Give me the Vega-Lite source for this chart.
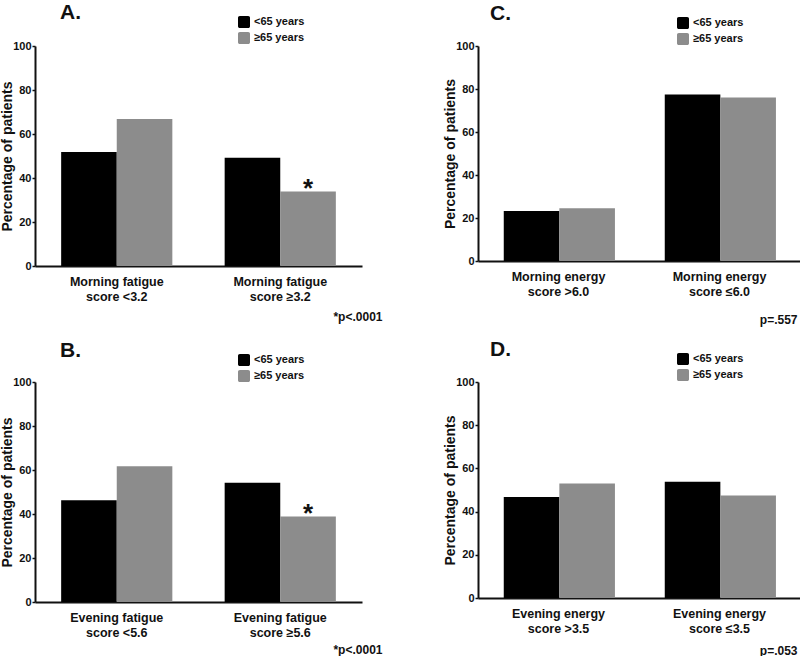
{
  "$schema": "https://vega.github.io/schema/vega-lite/v6.json",
  "background": "white",
  "padding": {"left": 0, "top": 2, "right": 0, "bottom": 0},
  "config": {
    "font": "Liberation Sans",
    "view": {"stroke": null},
    "axis": {
      "domainColor": "#111",
      "domainWidth": 2,
      "tickColor": "#111",
      "tickWidth": 1.5,
      "labelColor": "#111",
      "titleColor": "#111",
      "labelFontWeight": "bold",
      "titleFontWeight": "bold",
      "labelFont": "Liberation Sans",
      "titleFont": "Liberation Sans",
      "grid": false
    },
    "title": {"anchor": "start", "frame": "group", "fontSize": 21, "fontWeight": "bold", "color": "#111", "dx": 25, "offset": -7},
    "legend": {
      "orient": "none",
      "title": null,
      "padding": 0,
      "labelFontSize": 11,
      "labelFontWeight": "bold",
      "labelColor": "#111",
      "labelFont": "Liberation Sans",
      "symbolType": "M -0.7 -1 L 0.7 -1 A 0.3 0.3 0 0 1 1 -0.7 L 1 0.7 A 0.3 0.3 0 0 1 0.7 1 L -0.7 1 A 0.3 0.3 0 0 1 -1 0.7 L -1 -0.7 A 0.3 0.3 0 0 1 -0.7 -1 Z",
      "symbolSize": 144,
      "symbolStrokeWidth": 0,
      "rowPadding": 4,
      "labelOffset": 4
    },
    "concat": {"spacing": 116}
  },
  "datasets": {
    "A": [
      {"category": "Morning fatigue|score <3.2", "age": "<65 years", "pct": 51.8, "sig": ""},
      {"category": "Morning fatigue|score <3.2", "age": "≥65 years", "pct": 66.8, "sig": ""},
      {"category": "Morning fatigue|score ≥3.2", "age": "<65 years", "pct": 49.2, "sig": ""},
      {"category": "Morning fatigue|score ≥3.2", "age": "≥65 years", "pct": 33.9, "sig": "*"}
    ],
    "C": [
      {"category": "Morning energy|score >6.0", "age": "<65 years", "pct": 23.3, "sig": ""},
      {"category": "Morning energy|score >6.0", "age": "≥65 years", "pct": 24.5, "sig": ""},
      {"category": "Morning energy|score ≤6.0", "age": "<65 years", "pct": 77.5, "sig": ""},
      {"category": "Morning energy|score ≤6.0", "age": "≥65 years", "pct": 76.0, "sig": ""}
    ],
    "B": [
      {"category": "Evening fatigue|score <5.6", "age": "<65 years", "pct": 46.2, "sig": ""},
      {"category": "Evening fatigue|score <5.6", "age": "≥65 years", "pct": 61.7, "sig": ""},
      {"category": "Evening fatigue|score ≥5.6", "age": "<65 years", "pct": 54.2, "sig": ""},
      {"category": "Evening fatigue|score ≥5.6", "age": "≥65 years", "pct": 38.9, "sig": "*"}
    ],
    "D": [
      {"category": "Evening energy|score >3.5", "age": "<65 years", "pct": 46.8, "sig": ""},
      {"category": "Evening energy|score >3.5", "age": "≥65 years", "pct": 53.0, "sig": ""},
      {"category": "Evening energy|score ≤3.5", "age": "<65 years", "pct": 53.8, "sig": ""},
      {"category": "Evening energy|score ≤3.5", "age": "≥65 years", "pct": 47.4, "sig": ""}
    ]
  },
  "columns": 2,
  "bounds": "flush",
  "resolve": {
    "scale": {"x": "independent", "y": "independent", "color": "independent"},
    "legend": {"color": "independent"}
  },
  "concat": [
    {
      "width": 327, "height": 220,
      "title": {"text": "A."},
      "data": {"name": "A"},
      "encoding": {
        "x": {"field": "category", "type": "nominal", "sort": null,
          "scale": {"paddingInner": 0.32, "paddingOuter": 0.16},
          "axis": {"title": "*p<.0001", "labelAngle": 0, "ticks": false, "labelPadding": 9, "labelFontSize": 12.5, "labelLineHeight": 15,
            "labelExpr": "split(datum.label, '|')", "titleFontSize": 12, "titleAnchor": null, "titleAlign": "right", "titleBaseline": "top", "titleX": 347, "titleY": 45}},
        "xOffset": {"field": "age", "type": "nominal", "sort": ["<65 years", "≥65 years"]},
        "y": {"field": "pct", "type": "quantitative", "scale": {"domain": [0, 100], "nice": false},
          "axis": {"title": "Percentage of patients", "values": [0, 20, 40, 60, 80, 100], "tickSize": 3, "labelPadding": 1, "labelFontSize": 11, "titleFontSize": 14, "titlePadding": -2}}
      },
      "layer": [
        {"mark": {"type": "bar"},
         "encoding": {"color": {"field": "age", "type": "nominal", "sort": ["<65 years", "≥65 years"],
           "scale": {"domain": ["<65 years", "≥65 years"], "range": ["#000000", "#8c8c8c"]},
           "legend": {"legendX": 203, "legendY": -30}}}},
        {"mark": {"type": "text", "fontSize": 26, "fontWeight": "bold", "baseline": "alphabetic", "dy": 6, "color": "#111"},
         "encoding": {"text": {"field": "sig"}}}
      ]
    },
    {
      "width": 322, "height": 215,
      "title": {"text": "C.", "dx": 12},
      "data": {"name": "C"},
      "encoding": {
        "x": {"field": "category", "type": "nominal", "sort": null,
          "scale": {"paddingInner": 0.32, "paddingOuter": 0.16},
          "axis": {"title": "p=.557", "labelAngle": 0, "ticks": false, "labelPadding": 9, "labelFontSize": 12.5, "labelLineHeight": 15,
            "labelExpr": "split(datum.label, '|')", "titleFontSize": 12, "titleAnchor": null, "titleAlign": "right", "titleBaseline": "top", "titleX": 319, "titleY": 53}},
        "xOffset": {"field": "age", "type": "nominal", "sort": ["<65 years", "≥65 years"]},
        "y": {"field": "pct", "type": "quantitative", "scale": {"domain": [0, 100], "nice": false},
          "axis": {"title": "Percentage of patients", "values": [0, 20, 40, 60, 80, 100], "tickSize": 3, "labelPadding": 1, "labelFontSize": 11, "titleFontSize": 14, "titlePadding": -2}}
      },
      "layer": [
        {"mark": {"type": "bar"},
         "encoding": {"color": {"field": "age", "type": "nominal", "sort": ["<65 years", "≥65 years"],
           "scale": {"domain": ["<65 years", "≥65 years"], "range": ["#000000", "#8c8c8c"]},
           "legend": {"legendX": 199, "legendY": -29}}}},
        {"mark": {"type": "text", "fontSize": 26, "fontWeight": "bold", "baseline": "alphabetic", "dy": 6, "color": "#111"},
         "encoding": {"text": {"field": "sig"}}}
      ]
    },
    {
      "width": 327, "height": 220,
      "title": {"text": "B."},
      "data": {"name": "B"},
      "encoding": {
        "x": {"field": "category", "type": "nominal", "sort": null,
          "scale": {"paddingInner": 0.32, "paddingOuter": 0.16},
          "axis": {"title": "*p<.0001", "labelAngle": 0, "ticks": false, "labelPadding": 9, "labelFontSize": 12.5, "labelLineHeight": 15,
            "labelExpr": "split(datum.label, '|')", "titleFontSize": 12, "titleAnchor": null, "titleAlign": "right", "titleBaseline": "top", "titleX": 347, "titleY": 42}},
        "xOffset": {"field": "age", "type": "nominal", "sort": ["<65 years", "≥65 years"]},
        "y": {"field": "pct", "type": "quantitative", "scale": {"domain": [0, 100], "nice": false},
          "axis": {"title": "Percentage of patients", "values": [0, 20, 40, 60, 80, 100], "tickSize": 3, "labelPadding": 1, "labelFontSize": 11, "titleFontSize": 14, "titlePadding": -2}}
      },
      "layer": [
        {"mark": {"type": "bar"},
         "encoding": {"color": {"field": "age", "type": "nominal", "sort": ["<65 years", "≥65 years"],
           "scale": {"domain": ["<65 years", "≥65 years"], "range": ["#000000", "#8c8c8c"]},
           "legend": {"legendX": 203, "legendY": -28}}}},
        {"mark": {"type": "text", "fontSize": 26, "fontWeight": "bold", "baseline": "alphabetic", "dy": 6, "color": "#111"},
         "encoding": {"text": {"field": "sig"}}}
      ]
    },
    {
      "width": 322, "height": 216,
      "title": {"text": "D.", "dx": 12},
      "data": {"name": "D"},
      "encoding": {
        "x": {"field": "category", "type": "nominal", "sort": null,
          "scale": {"paddingInner": 0.32, "paddingOuter": 0.16},
          "axis": {"title": "p=.053", "labelAngle": 0, "ticks": false, "labelPadding": 9, "labelFontSize": 12.5, "labelLineHeight": 15,
            "labelExpr": "split(datum.label, '|')", "titleFontSize": 12, "titleAnchor": null, "titleAlign": "right", "titleBaseline": "top", "titleX": 319, "titleY": 47}},
        "xOffset": {"field": "age", "type": "nominal", "sort": ["<65 years", "≥65 years"]},
        "y": {"field": "pct", "type": "quantitative", "scale": {"domain": [0, 100], "nice": false},
          "axis": {"title": "Percentage of patients", "values": [0, 20, 40, 60, 80, 100], "tickSize": 3, "labelPadding": 1, "labelFontSize": 11, "titleFontSize": 14, "titlePadding": -2}}
      },
      "layer": [
        {"mark": {"type": "bar"},
         "encoding": {"color": {"field": "age", "type": "nominal", "sort": ["<65 years", "≥65 years"],
           "scale": {"domain": ["<65 years", "≥65 years"], "range": ["#000000", "#8c8c8c"]},
           "legend": {"legendX": 199, "legendY": -29}}}},
        {"mark": {"type": "text", "fontSize": 26, "fontWeight": "bold", "baseline": "alphabetic", "dy": 6, "color": "#111"},
         "encoding": {"text": {"field": "sig"}}}
      ]
    }
  ]
}
